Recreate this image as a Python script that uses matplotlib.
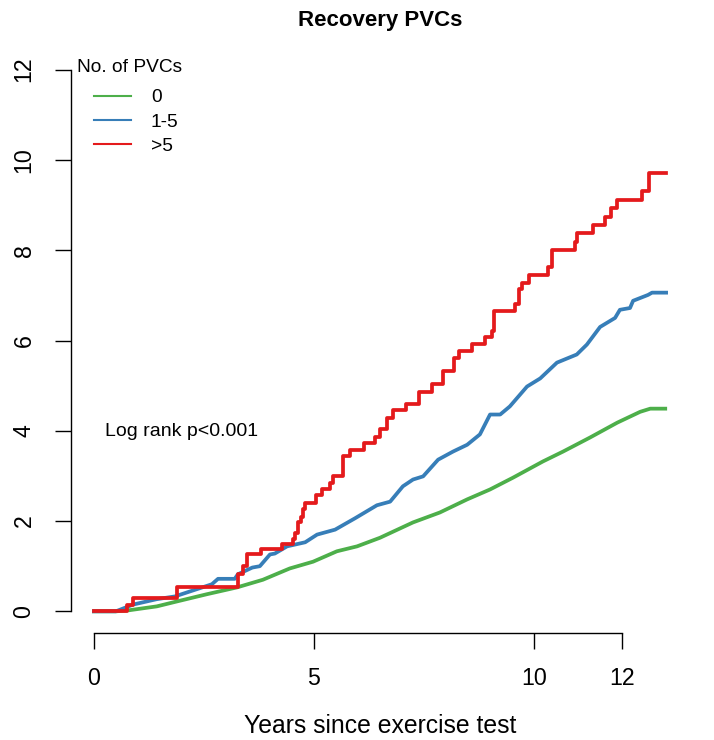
import numpy as np
import matplotlib
matplotlib.use('Agg')
import matplotlib.pyplot as plt

plt.rcParams['font.family'] = ['Liberation Sans', 'DejaVu Sans']

# cumulative incidence (years, %)
green_x = [0, 0.5, 0.77, 1.43, 1.89, 2.57, 3.25, 3.84, 4.23, 4.45, 4.98, 5.52, 5.98, 6.5,
           7.25, 7.86, 8.48, 9.0, 9.52, 10.2, 10.66, 11.27, 11.89, 12.41, 12.64, 12.98]
green_y = [0, 0, 0.02, 0.11, 0.22, 0.38, 0.53, 0.7, 0.86, 0.95, 1.1, 1.33, 1.44, 1.63,
           1.97, 2.19, 2.48, 2.7, 2.96, 3.32, 3.54, 3.85, 4.18, 4.42, 4.49, 4.49]

blue_x = [0, 0.5, 0.89, 1.43, 1.84, 2.18, 2.68, 2.82, 3.2, 3.27, 3.6, 3.77, 4.0, 4.11,
          4.39, 4.8, 5.07, 5.48, 5.93, 6.43, 6.73, 7.02, 7.25, 7.48, 7.82, 8.16, 8.48,
          8.77, 9.0, 9.23, 9.45, 9.84, 10.14, 10.52, 10.97, 11.2, 11.5, 11.84, 11.95,
          12.18, 12.25, 12.59, 12.68, 13.0]
blue_y = [0, 0, 0.15, 0.27, 0.33, 0.44, 0.6, 0.72, 0.72, 0.82, 0.97, 1.0, 1.26, 1.28,
          1.44, 1.53, 1.7, 1.81, 2.06, 2.35, 2.43, 2.77, 2.92, 2.99, 3.36, 3.54, 3.69,
          3.92, 4.36, 4.36, 4.54, 4.98, 5.16, 5.51, 5.69, 5.91, 6.3, 6.5, 6.68,
          6.72, 6.88, 7.01, 7.06, 7.06]

red_x = [0, 0.75, 0.89, 1.89, 3.27, 3.39, 3.47, 3.8, 4.27, 4.52, 4.57, 4.64, 4.70, 4.76,
         4.80, 5.05, 5.18, 5.36, 5.43, 5.66, 5.82, 6.14, 6.39, 6.5, 6.66, 6.8, 7.09,
         7.39, 7.68, 7.93, 8.18, 8.3, 8.59, 8.89, 9.05, 9.09, 9.57, 9.66, 9.72, 9.89,
         10.32, 10.41, 10.93, 10.97, 11.34, 11.61, 11.75, 11.89, 12.45, 12.61, 13.0]
red_y = [0, 0.13, 0.29, 0.55, 0.82, 1.0, 1.26, 1.39, 1.5, 1.6, 1.73, 1.97, 2.1, 2.26,
         2.41, 2.57, 2.72, 2.85, 3.0, 3.45, 3.58, 3.72, 3.87, 4.03, 4.29, 4.45, 4.6,
         4.87, 5.04, 5.33, 5.62, 5.77, 5.93, 6.08, 6.22, 6.66, 6.81, 7.15, 7.28, 7.45,
         7.63, 8.01, 8.19, 8.38, 8.56, 8.74, 8.94, 9.11, 9.31, 9.71, 9.71]

group_labels = ['0', '1-5', '>5']
colors = ['#4DAF4A', '#377EB8', '#E41A1C']
xticks = [0, 5, 10, 12]
yticks = [0, 2, 4, 6, 8, 10, 12]

W, H = 714, 740
fig = plt.figure(figsize=(W / 100, H / 100), dpi=100)
ax = fig.add_axes([71 / W, 107 / H, 618 / W, 585 / H])

lw = 2.7
l0, = ax.plot(green_x, green_y, color=colors[0], lw=lw, label=group_labels[0])
l1, = ax.plot(blue_x, blue_y, color=colors[1], lw=lw, label=group_labels[1])
l2, = ax.plot(red_x, red_y, color=colors[2], lw=lw, drawstyle='steps-post', label=group_labels[2])

ax.set_xlim(-0.52, 13.52)
ax.set_ylim(-0.48, 12.48)

for s in ['top', 'right']:
    ax.spines[s].set_visible(False)
ax.spines['left'].set_bounds(0, 12)
ax.spines['bottom'].set_bounds(0, 12)
for s in ['left', 'bottom']:
    ax.spines[s].set_linewidth(1.0)

ax.set_xticks(xticks)
ax.set_yticks(yticks)
ax.tick_params(axis='both', direction='out', length=11.5, width=1.0)
ax.tick_params(axis='x', labelsize=16.7, pad=13)
ax.tick_params(axis='y', labelsize=16.7, pad=14)
for t in ax.get_yticklabels():
    t.set_rotation(90)
    t.set_va('center')

ax.set_xlabel('Years since exercise test', fontsize=17.8, labelpad=17)
ax.set_title('Recovery PVCs', fontsize=16, fontweight='bold', pad=15.5)

fig.text(105 / W, 1 - 432 / H, 'Log rank p<0.001', fontsize=14, ha='left', va='center')
fig.text(77 / W, 1 - 67 / H, 'No. of PVCs', fontsize=13.8, ha='left', va='center')

leg = fig.legend(handles=[l0, l1, l2], loc='upper left',
                 bbox_to_anchor=(94 / W, 1 - 89 / H), bbox_transform=fig.transFigure,
                 frameon=False, fontsize=13.8, handlelength=1.93, handletextpad=1.04,
                 labelspacing=0.35, borderpad=0, borderaxespad=0)
for h in leg.legend_handles:
    h.set_linewidth(1.5)

fig.savefig('out.png', dpi=100)
